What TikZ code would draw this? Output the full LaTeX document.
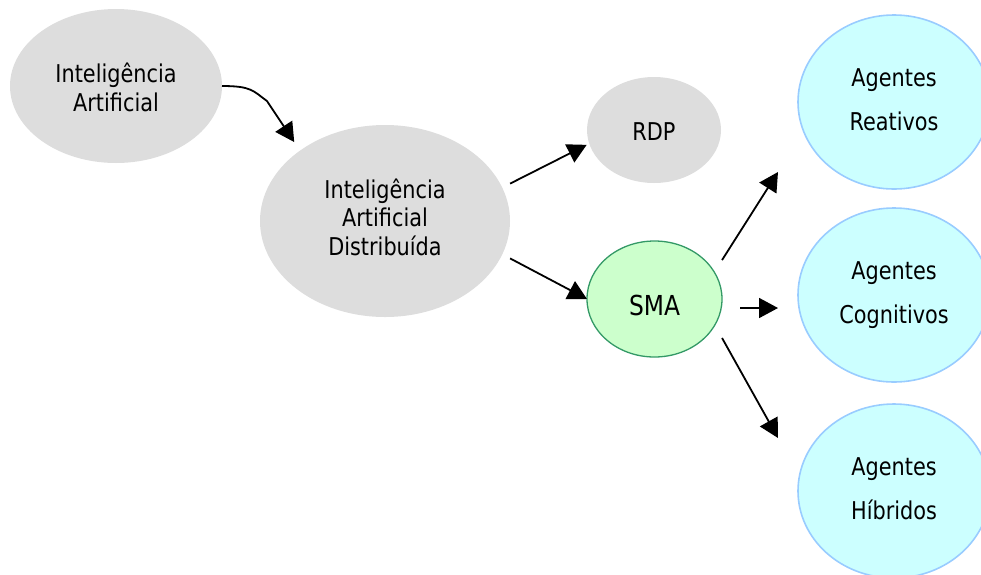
\documentclass[tikz,border=0pt]{standalone}
\usepackage{fontspec}
\setmainfont{DejaVu Sans}[FakeStretch=0.85]
\usetikzlibrary{arrows.meta,shapes.geometric}

\definecolor{bubblegray}{HTML}{DDDDDD}
\definecolor{smafill}{HTML}{CCFFCC}
\definecolor{smaline}{HTML}{339966}
\definecolor{agfill}{HTML}{CCFFFF}
\definecolor{agline}{HTML}{99CCFF}

\begin{document}
\begin{tikzpicture}[x=1pt,y=-1pt,
  bubble/.style={ellipse, inner sep=0pt, outer sep=0pt, align=center, text=black,
    font=\fontsize{24.5pt}{28.5pt}\selectfont},
  graybubble/.style={bubble, fill=bubblegray},
  smabubble/.style={bubble, fill=smafill, draw=smaline, line width=1.3pt,
    font=\fontsize{27.5pt}{30pt}\selectfont, text height=32pt, text depth=0pt},
  agbubble/.style={bubble, fill=agfill, draw=agline, line width=1.6pt,
    minimum width=192pt, minimum height=174pt,
    font=\fontsize{24.5pt}{44.5pt}\selectfont, text height=57pt, text depth=0pt},
  arr/.style={line width=1.8pt, -{Triangle[length=19pt,width=20pt]}},
]
\clip (0,0) rectangle (981,574);

% source areas
\node[graybubble, minimum width=212pt, minimum height=154pt,
      text height=50pt, text depth=0pt] (ia) at (116,86)
      {Inteligência\\Artificial};
\node[graybubble, minimum width=250pt, minimum height=192pt,
      text height=68pt, text depth=0pt] (iad) at (385,221)
      {Inteligência\\Artificial\\Distribuída};
\node[graybubble, minimum width=134pt, minimum height=106pt,
      text height=20pt, text depth=0pt] (rdp) at (654,130) {RDP};
\node[smabubble, minimum width=135pt, minimum height=116pt] (sma) at (654.5,299) {SMA};

% kinds of agents
\node[agbubble] (reat) at (894,102) {Agentes\\Reativos};
\node[agbubble] (cog)  at (894,295) {Agentes\\Cognitivos};
\node[agbubble] (hib)  at (894,491) {Agentes\\Híbridos};

% connectors
\draw[arr] (ia.east) .. controls +(30,0) and +(-14,-10) .. +(45,15)
  -- ([xshift=-8pt,yshift=7pt]iad.139);
\draw[arr] ([xshift=10pt]iad.18) -- ([xshift=-3pt]rdp.193);
\draw[arr] ([xshift=10pt]iad.-18) -- (sma.west);
\draw[arr] ([xshift=11.5pt,yshift=6.6pt]sma.30) -- ([xshift=-20pt,yshift=-70pt]reat.west);
\draw[arr] ([xshift=18pt,yshift=-9pt]sma.east) -- ([xshift=-20pt,yshift=-13pt]cog.west);
\draw[arr] ([xshift=11.5pt,yshift=-6.6pt]sma.-30) -- ([xshift=-20pt,yshift=53pt]hib.west);
\end{tikzpicture}
\end{document}
